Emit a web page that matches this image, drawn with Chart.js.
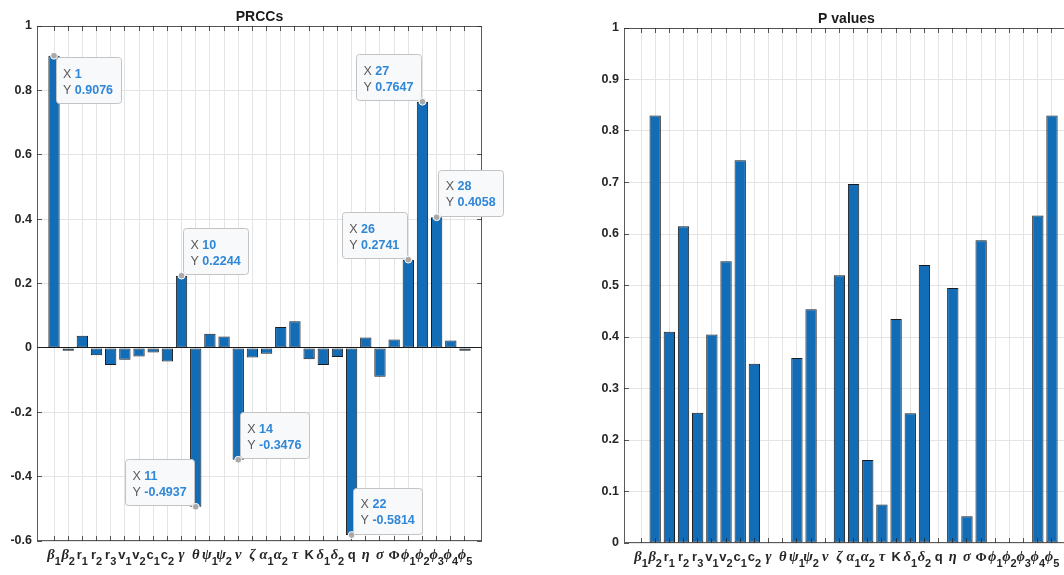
<!DOCTYPE html>
<html>
<head>
<meta charset="utf-8">
<title>PRCCs and P values</title>
<script src="https://cdn.jsdelivr.net/npm/chart.js@4.4.1/dist/chart.umd.min.js"></script>
<style>
  html, body { margin: 0; padding: 0; background: #fff; width: 1064px; height: 575px; overflow: hidden; }
  .panel { position: absolute; top: 0; }
</style>
</head>
<body>
<div class="panel" style="left:0"><canvas id="prccChart" width="560" height="575"></canvas></div>
<div class="panel" style="left:587px"><canvas id="pvalChart" width="560" height="575"></canvas></div>
<script>
// parameter names, TeX style: symbol_subscript
const paramLabels = ['β_1', 'β_2', 'r_1', 'r_2', 'r_3', 'v_1', 'v_2', 'c_1', 'c_2', 'γ',
                     'θ', 'ψ_1', 'ψ_2', 'ν', 'ζ', 'α_1', 'α_2', 'τ', 'K', 'δ_1',
                     'δ_2', 'q', 'η', 'σ', 'Φ', 'ϕ_1', 'ϕ_2', 'ϕ_3', 'ϕ_4', 'ϕ_5'];

const prccValues = [0.9076, -0.009, 0.038, -0.023, -0.053, -0.037, -0.027, -0.0145, -0.042, 0.2244,
                    -0.4937, 0.0435, 0.035, -0.3476, -0.030, -0.018, 0.065, 0.083, -0.035, -0.053,
                    -0.028, -0.5814, 0.032, -0.090, 0.026, 0.2741, 0.7647, 0.4058, 0.023, -0.009];

const pValues = [0, 0.830, 0.410, 0.615, 0.253, 0.405, 0.547, 0.743, 0.348, 0,
                 0, 0.359, 0.454, 0, 0.520, 0.697, 0.161, 0.075, 0.435, 0.252,
                 0.540, 0, 0.495, 0.052, 0.588, 0, 0, 0, 0.636, 0.830];

const prccTicks = [-0.6, -0.4, -0.2, 0, 0.2, 0.4, 0.6, 0.8, 1];
const pTicks = [0, 0.1, 0.2, 0.3, 0.4, 0.5, 0.6, 0.7, 0.8, 0.9, 1];

// data tips on the PRCC plot: bar number, side of the box (r/l, above t / below b)
const prccTips = [[1, 'rb'], [10, 'rt'], [11, 'lt'], [14, 'rt'], [22, 'rt'], [26, 'lt'], [27, 'lt'], [28, 'rt']];

const SANS = '"Liberation Sans", Helvetica, Arial, sans-serif';
const SERIF = '"Liberation Serif", "Times New Roman", serif';

function align(p) {
    return Math.round(p - 0.5) + 0.5;
}

function roundBox(ctx, x, y, w, h, r) {
    ctx.beginPath();
    ctx.moveTo(x + r, y);
    ctx.arcTo(x + w, y, x + w, y + h, r);
    ctx.arcTo(x + w, y + h, x, y + h, r);
    ctx.arcTo(x, y + h, x, y, r);
    ctx.arcTo(x, y, x + w, y, r);
    ctx.closePath();
}

// MATLAB style data tip with a marker on the bar end
function drawTip(chart, idx, side, value) {
    const ctx = chart.ctx;
    const px = chart.scales.x.getPixelForValue(idx);
    const py = chart.scales.y.getPixelForValue(value);
    const xText = String(idx);
    const yText = value.toFixed(4);

    ctx.font = '12.5px ' + SANS;
    const lead = Math.max(ctx.measureText('X ').width, ctx.measureText('Y ').width);
    ctx.font = 'bold 12.5px ' + SANS;
    const w = lead + Math.max(ctx.measureText(xText).width, ctx.measureText(yText).width) + 15;
    const h = 46;
    const bx = side[0] === 'r' ? px + 1.5 : px - 1.5 - w;
    const by = side[1] === 'b' ? py + 1.5 : py - 1.5 - h;

    roundBox(ctx, Math.round(bx) + 0.5, Math.round(by) + 0.5, Math.round(w), h, 3);
    ctx.fillStyle = '#f8f9fb';
    ctx.fill();
    ctx.strokeStyle = '#c3c3c3';
    ctx.lineWidth = 1;
    ctx.stroke();

    ctx.textAlign = 'left';
    ctx.textBaseline = 'alphabetic';
    ctx.font = '12.5px ' + SANS;
    ctx.fillStyle = '#5a5a5a';
    ctx.fillText('X', bx + 7.5, by + 20.5);
    ctx.fillText('Y', bx + 7.5, by + 36.5);
    ctx.font = 'bold 12.5px ' + SANS;
    ctx.fillStyle = '#2f87d8';
    ctx.fillText(xText, bx + 7.5 + lead, by + 20.5);
    ctx.fillText(yText, bx + 7.5 + lead, by + 36.5);

    ctx.beginPath();
    ctx.arc(px, py, 3.4, 0, Math.PI * 2);
    ctx.fillStyle = '#a9a9a9';
    ctx.fill();
    ctx.strokeStyle = '#ffffff';
    ctx.stroke();
}

function drawParamLabels(chart) {
    const ctx = chart.ctx;
    const xs = chart.scales.x;
    const base = chart.chartArea.bottom + 18;
    ctx.fillStyle = '#262626';
    ctx.textAlign = 'left';
    ctx.textBaseline = 'alphabetic';
    paramLabels.forEach((lab, i) => {
        const parts = lab.split('_');
        const sym = parts[0];
        const sub = parts[1] || '';
        let mainFont = 'bold 13px ' + SANS;
        if (/[α-ωϕ]/.test(sym)) mainFont = 'italic bold 14.5px ' + SERIF;
        if (sym === 'Φ') mainFont = 'bold 13.5px ' + SERIF;
        const subFont = 'bold 11px ' + SANS;
        ctx.font = mainFont;
        const w1 = ctx.measureText(sym).width;
        ctx.font = subFont;
        const w2 = sub ? ctx.measureText(sub).width : 0;
        const x0 = xs.getPixelForValue(i + 1) - (w1 + w2) / 2;
        ctx.font = mainFont;
        ctx.fillText(sym, x0, base);
        if (sub) {
            ctx.font = subFont;
            ctx.fillText(sub, x0 + w1, base + 5.5);
        }
    });
}

// box, inner tick marks, baseline, labels, title and data tips
const matlabAxes = {
    id: 'matlabAxes',
    afterDatasetsDraw(chart, args, opts) {
        const ctx = chart.ctx;
        const a = chart.chartArea;
        const xs = chart.scales.x;
        const ys = chart.scales.y;
        ctx.save();
        ctx.lineWidth = 1;

        // bar baseline at zero (only when it is inside the box)
        const y0 = align(ys.getPixelForValue(0));
        if (y0 < a.bottom - 2) {
            ctx.strokeStyle = '#1a1a1a';
            ctx.beginPath();
            ctx.moveTo(a.left, y0);
            ctx.lineTo(a.right, y0);
            ctx.stroke();
        }

        // axes box
        ctx.strokeStyle = 'rgba(38,38,38,0.75)';
        ctx.strokeRect(a.left + 0.5, a.top + 0.5, a.right - a.left - 1, a.bottom - a.top - 1);

        // tick marks pointing inwards
        ctx.beginPath();
        for (let i = 1; i <= paramLabels.length; i++) {
            const x = align(xs.getPixelForValue(i));
            ctx.moveTo(x, a.bottom);
            ctx.lineTo(x, a.bottom - 5);
            ctx.moveTo(x, a.top);
            ctx.lineTo(x, a.top + 5);
        }
        opts.yTicks.forEach(v => {
            const y = align(ys.getPixelForValue(v));
            ctx.moveTo(a.left, y);
            ctx.lineTo(a.left + 5, y);
            ctx.moveTo(a.right, y);
            ctx.lineTo(a.right - 5, y);
        });
        ctx.stroke();

        (opts.tips || []).forEach(t => drawTip(chart, t[0], t[1], opts.values[t[0] - 1]));
        ctx.restore();
    },
    afterDraw(chart, args, opts) {
        const ctx = chart.ctx;
        const a = chart.chartArea;
        ctx.save();
        drawParamLabels(chart);
        ctx.font = 'bold 14px ' + SANS;
        ctx.fillStyle = '#1a1a1a';
        ctx.textAlign = 'center';
        ctx.textBaseline = 'alphabetic';
        ctx.fillText(opts.title, (a.left + a.right) / 2, a.top - 5.5);
        ctx.restore();
    }
};

function buildChart(canvasId, values, yTicks, title, tips, padTop, padBottom) {
    const ctx = document.getElementById(canvasId).getContext('2d');
    return new Chart(ctx, {
        type: 'bar',
        data: {
            datasets: [{
                data: values.map((v, i) => ({ x: i + 1, y: v })),
                backgroundColor: '#136cb6',
                borderColor: '#1c1c1c',
                // zero height bars are not drawn at all
                borderWidth: c => (c.raw && c.raw.y === 0 ? 0 : 1),
                borderSkipped: false,
                barPercentage: 0.8,
                categoryPercentage: 1
            }]
        },
        options: {
            responsive: false,
            animation: false,
            events: [],
            devicePixelRatio: 1,
            layout: { padding: { top: padTop, bottom: padBottom, left: 0, right: 78 } },
            plugins: {
                legend: { display: false },
                tooltip: { enabled: false },
                matlabAxes: { title: title, tips: tips, yTicks: yTicks, values: values }
            },
            scales: {
                x: {
                    type: 'linear',
                    min: -0.2,
                    max: 31.2,
                    offset: false,
                    grid: { color: '#e4e4e4', drawTicks: false, offset: false },
                    border: { display: false },
                    ticks: { display: false },
                    afterBuildTicks: s => { s.ticks = paramLabels.map((_, i) => ({ value: i + 1 })); },
                    afterFit: s => { s.height = 0; }
                },
                y: {
                    min: yTicks[0],
                    max: yTicks[yTicks.length - 1],
                    grid: { color: '#e4e4e4', drawTicks: false },
                    border: { display: false },
                    ticks: {
                        padding: 5,
                        color: '#262626',
                        font: { family: SANS, size: 12.5, weight: 'bold' },
                        callback: v => String(Math.round(v * 10) / 10)
                    },
                    afterBuildTicks: s => { s.ticks = yTicks.map(v => ({ value: v })); },
                    afterFit: s => { s.width = 37; }
                }
            }
        },
        plugins: [matlabAxes]
    });
}

buildChart('prccChart', prccValues, prccTicks, 'PRCCs', prccTips, 26, 34);
buildChart('pvalChart', pValues, pTicks, 'P values', [], 28, 32);
</script>
</body>
</html>
